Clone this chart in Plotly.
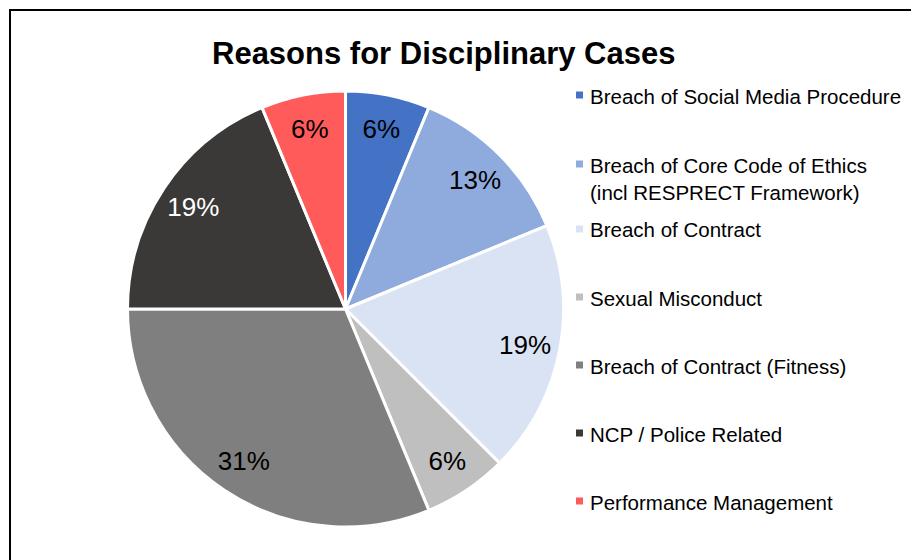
import plotly.graph_objects as go

# ---- data ----
labels = [
    "Breach of Social Media Procedure",
    "Breach of Core Code of Ethics<br>(incl RESPRECT Framework)",
    "Breach of Contract",
    "Sexual Misconduct",
    "Breach of Contract (Fitness)",
    "NCP / Police Related",
    "Performance Management",
]
counts = [1, 2, 3, 1, 5, 3, 1]
colors = ["#4472C4", "#8FAADC", "#DAE3F3", "#BFBFBF", "#7F7F7F", "#3B3838", "#FF5B5B"]
text_colors = ["#000000", "#000000", "#000000", "#000000", "#000000", "#FFFFFF", "#000000"]
title_text = "Reasons for Disciplinary Cases"

W, H = 911, 560
FONT = "Liberation Sans, Arial, sans-serif"

# pie geometry (pixels)
cx, cy, r = 345.5, 309, 218
dom = dict(x=[(cx - r) / W, (cx + r) / W], y=[(H - cy - r) / H, (H - cy + r) / H])

fig = go.Figure()
# filled slices
fig.add_trace(go.Pie(
    labels=labels, values=counts, sort=False, direction="clockwise", rotation=0,
    marker=dict(colors=colors, line=dict(color="white", width=3)),
    textinfo="none", showlegend=False,
    hoverinfo="label+value+percent", domain=dom,
))
# transparent ring carrying the percentage labels near the rim
fig.add_trace(go.Pie(
    labels=labels, values=counts, sort=False, direction="clockwise", rotation=0,
    hole=0.68,
    marker=dict(colors=["rgba(0,0,0,0)"] * len(counts), line=dict(width=0)),
    textinfo="percent", texttemplate="%{percent:.0%}",
    textposition="inside", insidetextorientation="horizontal",
    textfont=dict(family=FONT, size=26, color=text_colors),
    showlegend=False, hoverinfo="skip", domain=dom,
))

# custom legend (spacing as in the reference)
legend_y = [95, 164, 229, 297, 365, 433, 501]
shapes = [
    dict(type="rect", xref="paper", yref="paper",
         x0=10 / W, x1=1.02, y0=(H - 10) / H, y1=-0.02,
         line=dict(color="black", width=2), fillcolor="rgba(0,0,0,0)", layer="above"),
]
annotations = []
for lab, col, yy in zip(labels, colors, legend_y):
    shapes.append(dict(type="rect", xref="paper", yref="paper",
                       x0=576 / W, x1=583 / W, y0=(H - yy + 3.5) / H, y1=(H - yy - 3.5) / H,
                       fillcolor=col, line=dict(width=0)))
    annotations.append(dict(text=lab, xref="paper", yref="paper",
                            x=588 / W, y=(H - yy + 12.5) / H, xanchor="left", yanchor="top",
                            showarrow=False, align="left",
                            font=dict(family=FONT, size=20.5, color="#000000")))

annotations.append(dict(text="<b>" + title_text + "</b>", xref="paper", yref="paper",
                        x=443 / W, y=(H - 53) / H, xanchor="center", yanchor="middle",
                        showarrow=False, font=dict(family=FONT, size=31, color="#000000")))

fig.update_layout(
    width=W, height=H,
    margin=dict(l=0, r=0, t=0, b=0),
    paper_bgcolor="white",
    plot_bgcolor="white",
    shapes=shapes,
    annotations=annotations,
)

fig.write_html("out.html", config={"displayModeBar": False},
               post_script="document.body.style.margin='0px';")
